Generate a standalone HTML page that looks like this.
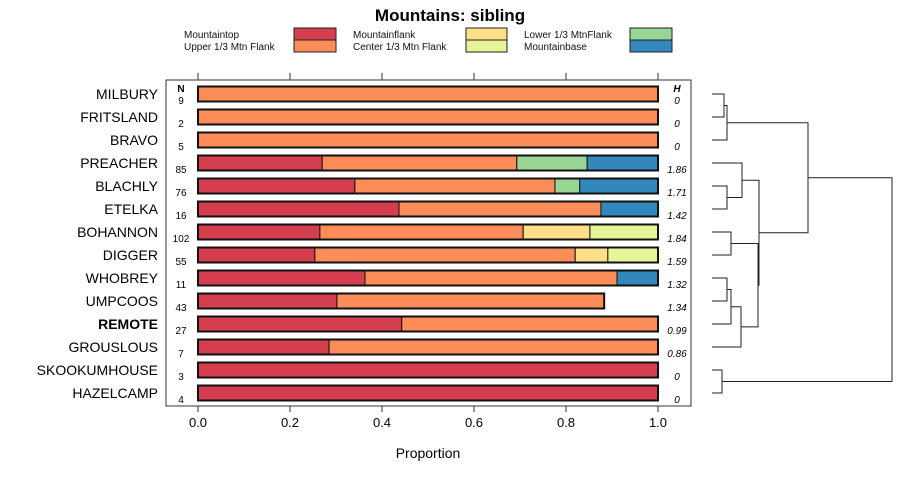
<!DOCTYPE html>
<html><head><meta charset="utf-8"><style>
body{margin:0;background:#fff}
svg{font-family:"Liberation Sans",sans-serif;display:block}
</style></head><body>
<svg id="c" width="900" height="480" xmlns="http://www.w3.org/2000/svg">
<text x="450" y="21" text-anchor="middle" font-size="17" font-weight="bold">Mountains: sibling</text>
<g font-size="10" fill="#111">
<g><text x="184" y="38">Mountaintop</text><rect x="294" y="28" width="42" height="12" fill="#D53E4F" stroke="#222"/></g>
<g><text x="184" y="50">Upper 1/3 Mtn Flank</text><rect x="294" y="40" width="42" height="12" fill="#FC8D59" stroke="#222"/></g>
<g><text x="353" y="38">Mountainflank</text><rect x="466" y="28" width="41" height="12" fill="#FEE08B" stroke="#222"/></g>
<g><text x="353" y="50">Center 1/3 Mtn Flank</text><rect x="466" y="40" width="41" height="12" fill="#E6F598" stroke="#222"/></g>
<g><text x="524" y="38">Lower 1/3 MtnFlank</text><rect x="630" y="28" width="42" height="12" fill="#99D594" stroke="#222"/></g>
<g><text x="524" y="50">Mountainbase</text><rect x="630" y="40" width="42" height="12" fill="#3288BD" stroke="#222"/></g>
</g>
<rect x="166" y="80" width="525" height="326" fill="none" stroke="#333"/>
<text x="181" y="92" text-anchor="middle" font-size="10" font-weight="bold">N</text>
<text x="677" y="92" text-anchor="middle" font-size="10" font-weight="bold" font-style="italic">H</text>
<text x="428" y="458" text-anchor="middle" font-size="14">Proportion</text>
<g id="g"></g>
</svg>
<script>
const categories=["MILBURY","FRITSLAND","BRAVO","PREACHER","BLACHLY","ETELKA","BOHANNON","DIGGER","WHOBREY","UMPCOOS","REMOTE","GROUSLOUS","SKOOKUMHOUSE","HAZELCAMP"];
const nValues=[9,2,5,85,76,16,102,55,11,43,27,7,3,4];
const hValues=["0","0","0","1.86","1.71","1.42","1.84","1.59","1.32","1.34","0.99","0.86","0","0"];
const mountaintop=[0,0,0,0.27,0.341,0.437,0.265,0.254,0.363,0.302,0.443,0.285,1,1];
const upperFlank=[1,1,1,0.423,0.435,0.439,0.442,0.566,0.548,0.581,0.557,0.715,0,0];
const mountainflank=[0,0,0,0,0,0,0.145,0.071,0,0,0,0,0,0];
const centerFlank=[0,0,0,0,0,0,0.148,0.109,0,0,0,0,0,0];
const lowerFlank=[0,0,0,0.153,0.054,0,0,0,0,0,0,0,0,0];
const mountainbase=[0,0,0,0.154,0.17,0.124,0,0,0.089,0,0,0,0,0];
const xTicks=[0,0.2,0.4,0.6,0.8,1.0];
const xTickLabels=["0.0","0.2","0.4","0.6","0.8","1.0"];
const series=[mountaintop,upperFlank,mountainflank,centerFlank,lowerFlank,mountainbase];
const seriesNames=["mountaintop","upper-flank","mountainflank","center-flank","lower-flank","mountainbase"];
const colors=["#D53E4F","#FC8D59","#FEE08B","#E6F598","#99D594","#3288BD"];
const NS="http://www.w3.org/2000/svg";
const g=document.getElementById('g');
const X=v=>198+v*460;
const Y=i=>94+i*23;
function mk(t,a,p){const e=document.createElementNS(NS,t);for(const k in a)e.setAttribute(k,a[k]);(p||g).appendChild(e);return e;}
xTicks.forEach((t,i)=>{
 let l=mk('line',{x1:X(t),x2:X(t),y1:406,y2:412,stroke:'#333'});
 
 
 let l2=mk('line',{x1:X(t),x2:X(t),y1:73,y2:80,stroke:'#333'});
 
 
 let tx=mk('text',{x:X(t),y:427,'text-anchor':'middle','font-size':13});tx.textContent=xTickLabels[i];
 
 
});
categories.forEach((c,i)=>{
 const y=Y(i);
 let t=mk('text',{x:158,y:y+5,'text-anchor':'end','font-size':14,'font-weight':c==="REMOTE"?'bold':'normal'});t.textContent=c;
 
 
 let n=mk('text',{x:181,y:y+10,'text-anchor':'middle','font-size':10});n.textContent=nValues[i];
 
 
 let h=mk('text',{x:677,y:y+10,'text-anchor':'middle','font-size':10,'font-style':'italic'});h.textContent=hValues[i];
 
 
 let cum=0;
 series.forEach((s,k)=>{
  if(s[i]<=0)return;
  let r=mk('rect',{x:X(cum),y:y-7.5,width:s[i]*460,height:15,fill:colors[k],stroke:'#111','stroke-width':1});
  
  
  cum+=s[i];
 });
 let o=mk('rect',{x:X(0),y:y-7.5,width:cum*460,height:15,fill:'none',stroke:'#111','stroke-width':2});
 
 
});
// dendrogram: merges [leftNode,rightNode,xpx]; leaves are 0..13
const merges=[[0,1,724],[14,2,727],[4,5,727],[3,16,742],[6,7,731],[8,9,727],[19,10,731],[20,11,741],[18,21,758],[17,22,759],[15,23,808],[12,13,722],[24,25,892]];
const node={};categories.forEach((c,i)=>node[i]={x:712,y:Y(i)});
merges.forEach((m,k)=>{
 const a=node[m[0]],b=node[m[1]],x=m[2];
 let p=mk('path',{d:`M${a.x},${a.y}H${x}V${b.y}H${b.x}`,fill:'none',stroke:'#222','stroke-width':1});
 
 
 node[14+k]={x:x,y:(a.y+b.y)/2};
});
</script>
</body></html>
